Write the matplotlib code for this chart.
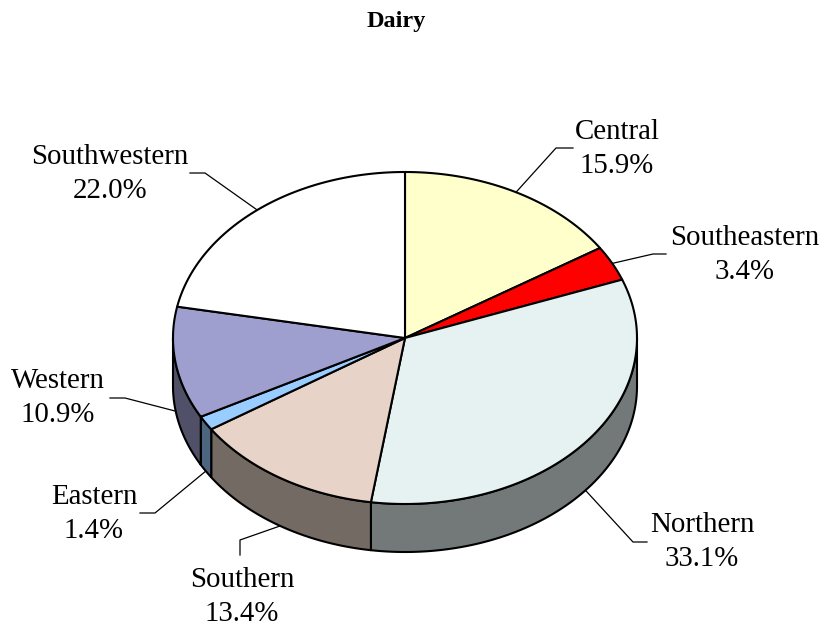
import numpy as np
import matplotlib.pyplot as plt
from matplotlib.patches import Polygon
from matplotlib.colors import to_rgb

# ---------- Data ----------
regions = ["Central", "Southeastern", "Northern", "Southern", "Eastern", "Western", "Southwestern"]
shares = [15.9, 3.4, 33.1, 13.4, 1.4, 10.9, 22.0]
top_colors = ["#FFFFCC", "#FF0000", "#E6F2F2", "#E8D3C8", "#99CCFF", "#9F9FCF", "#FFFFFF"]

# ---------- Layout (pixel coords, y downwards) ----------
cx, cy = 405, 338          # centre of the top ellipse
rx, ry = 232, 166          # ellipse radii
depth = 48                 # thickness of the pie
start_angle = 90.0         # first slice starts at 12 o'clock, going clockwise

label_pos = [(617, 149), (745, 255), (702, 542), (242, 597), (94, 514), (58, 398), (110, 174)]
elbows = [
    [(556, 148), (573, 148)],
    [(653, 254), (666, 254)],
    [(633, 542), (647, 542)],
    [(240, 540), (240, 555)],
    [(155, 513), (140, 513)],
    [(125, 398), (110, 398)],
    [(205, 173), (190, 173)],
]

fig = plt.figure(figsize=(8.25, 6.3), dpi=100)
ax = fig.add_axes([0, 0, 1, 1])
ax.set_xlim(0, 825)
ax.set_ylim(630, 0)
ax.axis("off")


def pt(theta, dz=0.0):
    t = np.radians(theta)
    return cx + rx * np.cos(t), cy - ry * np.sin(t) + dz


def arc(t0, t1, dz=0.0, n=120):
    ts = np.linspace(t0, t1, n)
    return [pt(t, dz) for t in ts]


# slice angle ranges (clockwise => decreasing angle)
total = sum(shares)
bounds = []
a = start_angle
for v in shares:
    b = a - 360.0 * v / total
    bounds.append((a, b))
    a = b

# ---------- Side walls (front half only: angles in [-180, 0]) ----------
for (a0, a1), col in zip(bounds, top_colors):
    hi = min(a0, 0.0)
    lo = max(a1, -180.0)
    if hi <= lo:
        continue
    top = arc(hi, lo)
    bot = arc(lo, hi, depth)
    side = tuple(0.5 * c for c in to_rgb(col))
    ax.add_patch(Polygon(top + bot, closed=True, facecolor=side,
                         edgecolor="black", lw=1.5, joinstyle="round"))

# ---------- Top faces ----------
for (a0, a1), col in zip(bounds, top_colors):
    verts = [(cx, cy)] + arc(a0, a1)
    ax.add_patch(Polygon(verts, closed=True, facecolor=col,
                         edgecolor="black", lw=1.5, joinstyle="round"))

# ---------- Labels and leader lines ----------
for (a0, a1), name, v, lp, el in zip(bounds, regions, shares, label_pos, elbows):
    mid = 0.5 * (a0 + a1)
    # front slices: anchor on the bottom rim
    dz = depth if np.sin(np.radians(mid)) < 0 else 0.0
    anchor = pt(mid, dz)
    xs = [anchor[0]] + [p[0] for p in el]
    ys = [anchor[1]] + [p[1] for p in el]
    ax.plot(xs, ys, color="black", lw=0.9)
    ax.text(lp[0], lp[1], f"{name}\n{v:.1f}%", ha="center", va="center",
            fontsize=20.8, family="Liberation Serif", linespacing=1.42)

ax.text(396, 22, "Dairy", ha="center", va="center", fontsize=17.5,
        family="Liberation Serif", fontweight="bold")

fig.savefig("out.png", dpi=100)
